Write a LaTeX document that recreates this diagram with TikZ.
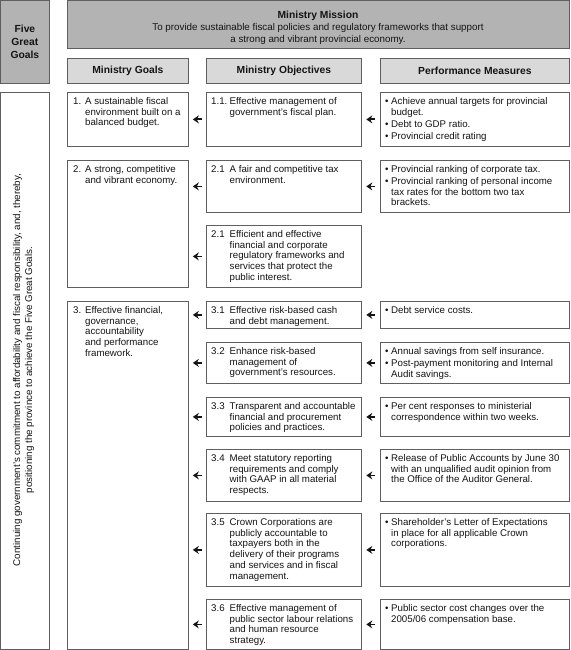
\documentclass[tikz,border=0pt]{standalone}
\usepackage{fontspec}
\setmainfont{Liberation Sans}
\usetikzlibrary{arrows.meta,calc}
\definecolor{dkfill}{HTML}{B3B3B3}
\definecolor{ltfill}{HTML}{D9D9D9}
\definecolor{edge}{HTML}{5F5F5F}
\definecolor{ink}{HTML}{141414}
\newcommand\hng[3]{\hangindent=#1\hangafter=1\noindent\makebox[#1][l]{#2}#3\par}
\newcommand\bul[1]{\hng{6pt}{\textbullet}{#1}}
\newcommand\bgap{\vspace{1.2pt}}
\newcommand\mkcell[6][cellbox]{\node[#1, minimum width={(#5-#3)*1pt}, minimum height={(#6-#4)*1pt}] (#2) at (#3,#4) {};}
\newcommand\tp[1]{\parbox[t]{300pt}{#1}}
\tikzset{
  cellbox/.style={draw=edge, line width=0.8pt, fill=white, inner sep=0pt, anchor=north west},
  darkbox/.style={cellbox, fill=dkfill},
  hdrbox/.style={cellbox, fill=ltfill},
  hdrtxt/.style={inner sep=0pt, font=\fontsize{10.3}{12}\selectfont\bfseries, text=ink},
  txt/.style={inner sep=0pt, anchor=north west, font=\fontsize{9.7}{10.8}\selectfont, text=ink},
  arr/.style={-{Stealth[length=6pt,width=8pt,inset=2pt]}, line width=1.8pt, draw=ink},
}
\begin{document}
\begin{tikzpicture}[x=1pt,y=-1pt]
\useasboundingbox (0,0) rectangle (570,650);
% top row
\mkcell[darkbox]{five}{0}{0}{49}{83}
\node[hdrtxt, align=center, font=\fontsize{10.3}{13}\selectfont\bfseries] (fivet) at (five.center) {Five\\Great\\Goals};
\mkcell[darkbox]{mission}{67}{0}{569}{48}
\node[inner sep=0pt, align=center, text=ink, font=\fontsize{9.8}{12.2}\selectfont] (missiont) at (318,27.5)
  {{\fontsize{10.3}{12.2}\selectfont\bfseries Ministry Mission}\\To provide sustainable fiscal policies and regulatory frameworks that support\\a strong and vibrant provincial economy.};
\mkcell[hdrbox]{hg}{67}{58}{188}{83}
\mkcell[hdrbox]{ho}{206}{58}{361}{83}
\mkcell[hdrbox]{hp}{380}{58}{569}{83}
\node[hdrtxt] (hgt) at (hg.center) {Ministry Goals};
\node[hdrtxt] (hot) at (ho.center) {Ministry Objectives};
\node[hdrtxt] (hpt) at (hp.center) {Performance Measures};
% left tall box
\mkcell{left}{0}{92}{49}{649}
\node[inner sep=0pt, rotate=90, align=center, text=ink, font=\fontsize{9.8}{12}\selectfont] (leftt) at (23.5,370)
  {Continuing government's commitment to affordability and fiscal responsibility, and, thereby,\\positioning the province to achieve the Five Great Goals.};
% goals
\mkcell{g1}{67}{92}{188}{146}
\mkcell{g2}{67}{160}{188}{287}
\mkcell{g3}{67}{301}{188}{649}
\node[txt] (g1t) at ($(g1.north west)+(6,5)$) {\tp{\hng{12pt}{1.}{A sustainable fiscal\\environment built on a\\balanced budget.}}};
\node[txt] (g2t) at ($(g2.north west)+(6,5)$) {\tp{\hng{12pt}{2.}{A strong, competitive\\and vibrant economy.}}};
\node[txt] (g3t) at ($(g3.north west)+(6,5)$) {\tp{\hng{12pt}{3.}{Effective financial,\\governance,\\accountability\\and performance\\framework.}}};
% objectives
\mkcell{o11}{206}{92}{361}{146}
\mkcell{o21}{206}{160}{361}{212}
\mkcell{o22}{206}{225}{361}{287}
\mkcell{o31}{206}{301}{361}{328}
\mkcell{o32}{206}{342}{361}{383}
\mkcell{o33}{206}{397}{361}{436}
\mkcell{o34}{206}{449}{361}{501}
\mkcell{o35}{206}{513}{361}{586}
\mkcell{o36}{206}{599}{361}{649}
\node[txt] (o11t) at ($(o11.north west)+(5,5)$) {\tp{\hng{18.5pt}{1.1.}{Effective management of\\government's fiscal plan.}}};
\node[txt] (o21t) at ($(o21.north west)+(5,5)$) {\tp{\hng{18.5pt}{2.1}{A fair and competitive tax\\environment.}}};
\node[txt] (o22t) at ($(o22.north west)+(5,5)$) {\tp{\hng{18.5pt}{2.1}{Efficient and effective\\financial and corporate\\regulatory frameworks and\\services that protect the\\public interest.}}};
\node[txt] (o31t) at ($(o31.north west)+(5,5)$) {\tp{\hng{18.5pt}{3.1}{Effective risk-based cash\\and debt management.}}};
\node[txt] (o32t) at ($(o32.north west)+(5,5)$) {\tp{\hng{18.5pt}{3.2}{Enhance risk-based\\management of\\government's resources.}}};
\node[txt] (o33t) at ($(o33.north west)+(5,5)$) {\tp{\hng{18.5pt}{3.3}{Transparent and accountable\\financial and procurement\\policies and practices.}}};
\node[txt] (o34t) at ($(o34.north west)+(5,5)$) {\tp{\hng{18.5pt}{3.4}{Meet statutory reporting\\requirements and comply\\with GAAP in all material\\respects.}}};
\node[txt] (o35t) at ($(o35.north west)+(5,5)$) {\tp{\hng{18.5pt}{3.5}{Crown Corporations are\\publicly accountable to\\taxpayers both in the\\delivery of their programs\\and services and in fiscal\\management.}}};
\node[txt] (o36t) at ($(o36.north west)+(5,5)$) {\tp{\hng{18.5pt}{3.6}{Effective management of\\public sector labour relations\\and human resource\\strategy.}}};
% performance measures
\mkcell{p11}{380}{92}{569}{146}
\mkcell{p21}{380}{160}{569}{212}
\mkcell{p31}{380}{301}{569}{328}
\mkcell{p32}{380}{342}{569}{383}
\mkcell{p33}{380}{397}{569}{436}
\mkcell{p34}{380}{449}{569}{501}
\mkcell{p35}{380}{513}{569}{586}
\mkcell{p36}{380}{599}{569}{649}
\node[txt] (p11t) at ($(p11.north west)+(5,5)$) {\tp{\bul{Achieve annual targets for provincial\\budget.}\bgap\bul{Debt to GDP ratio.}\bgap\bul{Provincial credit rating}}};
\node[txt] (p21t) at ($(p21.north west)+(5,5)$) {\tp{\bul{Provincial ranking of corporate tax.}\bgap\bul{Provincial ranking of personal income\\tax rates for the bottom two tax\\brackets.}}};
\node[txt] (p31t) at ($(p31.north west)+(5,5)$) {\tp{\bul{Debt service costs.}}};
\node[txt] (p32t) at ($(p32.north west)+(5,5)$) {\tp{\bul{Annual savings from self insurance.}\bgap\bul{Post-payment monitoring and Internal\\Audit savings.}}};
\node[txt] (p33t) at ($(p33.north west)+(5,5)$) {\tp{\bul{Per cent responses to ministerial\\correspondence within two weeks.}}};
\node[txt] (p34t) at ($(p34.north west)+(5,5)$) {\tp{\bul{Release of Public Accounts by June 30\\with an unqualified audit opinion from\\the Office of the Auditor General.}}};
\node[txt] (p35t) at ($(p35.north west)+(5,5)$) {\tp{\bul{Shareholder's Letter of Expectations\\in place for all applicable Crown\\corporations.}}};
\node[txt] (p36t) at ($(p36.north west)+(5,5)$) {\tp{\bul{Public sector cost changes over the\\2005/06 compensation base.}}};
% arrows objectives -> goals
\draw[arr] ([xshift=-4.5pt]o11.west) -- ($(g1.east |- o11.west)+(4,0)$);
\draw[arr] ([xshift=-4.5pt]o21.west) -- ($(g2.east |- o21.west)+(4,0)$);
\draw[arr] ([xshift=-4.5pt]o22.west) -- ($(g2.east |- o22.west)+(4,0)$);
\foreach \o in {o31,o32,o33,o34,o35,o36}{
  \draw[arr] ([xshift=-4.5pt]\o.west) -- ($(g3.east |- \o.west)+(4,0)$);
}
% arrows measures -> objectives
\foreach \p/\o in {p11/o11,p21/o21,p31/o31,p32/o32,p33/o33,p34/o34,p35/o35,p36/o36}{
  \draw[arr] ([xshift=-5.5pt]\p.west) -- ($(\o.east |- \p.west)+(4.5,0)$);
}
\end{tikzpicture}
\end{document}
